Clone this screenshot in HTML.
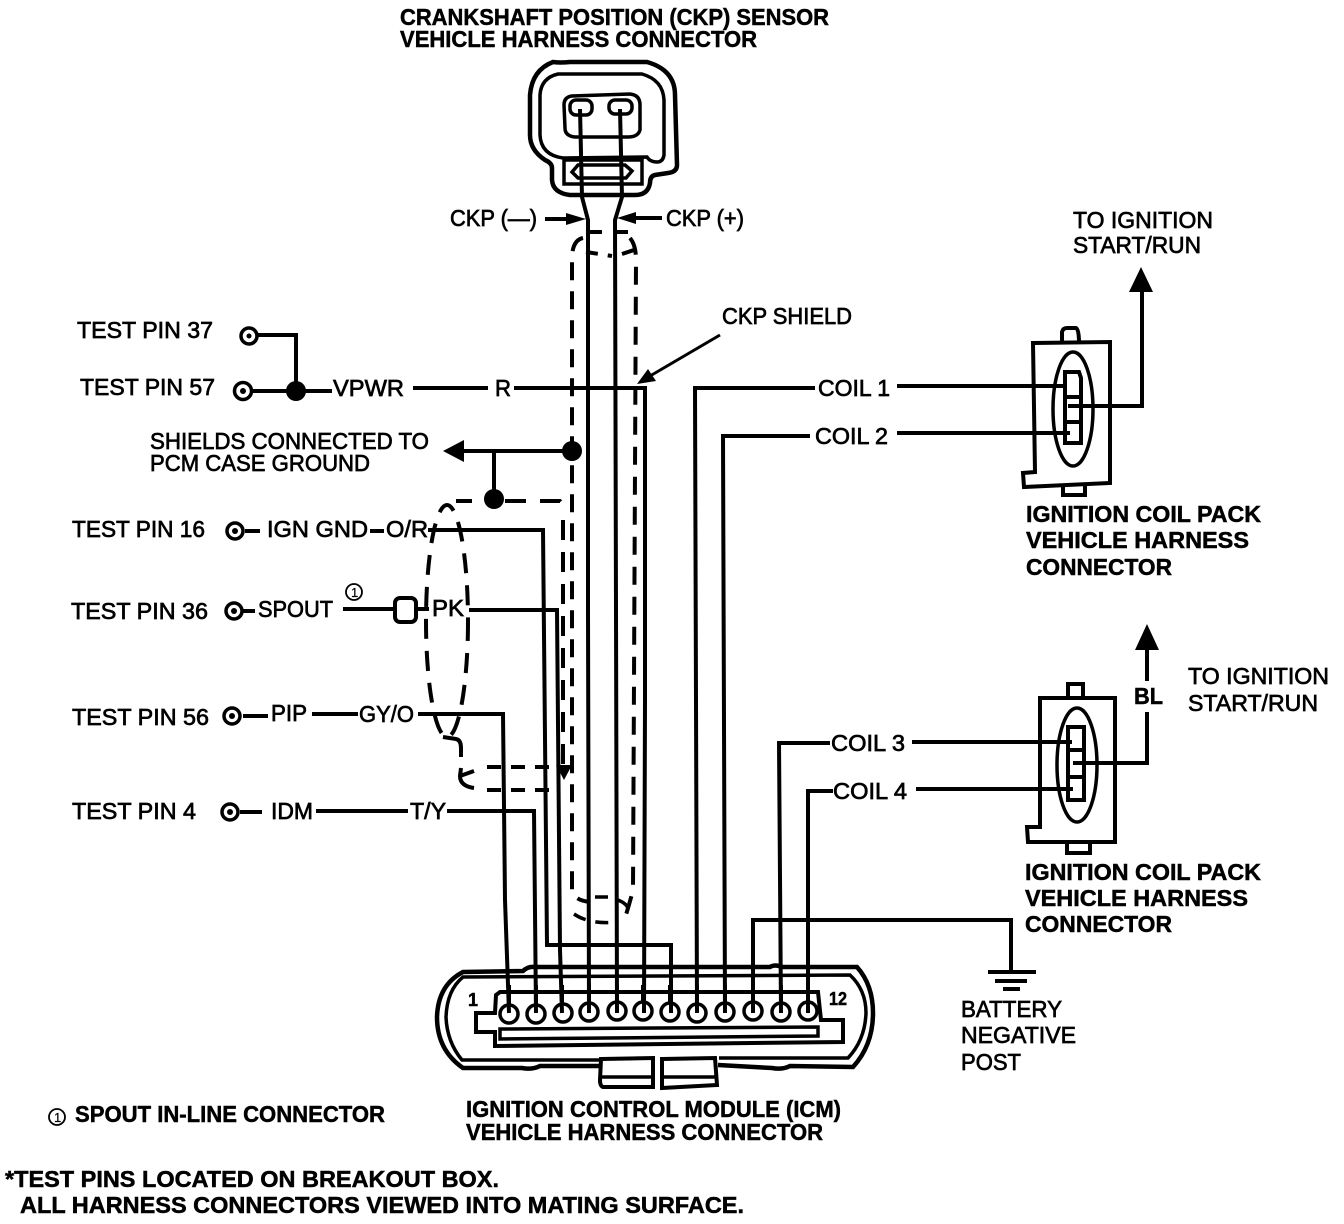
<!DOCTYPE html>
<html>
<head>
<meta charset="utf-8">
<style>
html,body{margin:0;padding:0;background:#fff;width:1344px;height:1224px;overflow:hidden}
svg{display:block}
text{font-family:"Liberation Sans",sans-serif;fill:#000;font-size:23px;stroke:#000;stroke-width:.7px}
.b{font-weight:bold;stroke-width:.5px}
.w{fill:none;stroke:#000;stroke-width:4;stroke-linejoin:miter}
.t{fill:none;stroke:#000;stroke-width:3.5}
.d{fill:none;stroke:#000;stroke-width:4;stroke-dasharray:21 14}
.f{fill:#000;stroke:none}
</style>
</head>
<body>
<svg width="1344" height="1224" viewBox="0 0 1344 1224" xmlns="http://www.w3.org/2000/svg">
<rect width="1344" height="1224" fill="#fff"/>

<!-- CKP connector -->
<path class="w" style="stroke-width:4.5" d="M553 62 Q560 63 570 62 L647 62 Q675 70 675 95 L677 165 Q677 172 668 173 L655 175 Q650 176 650 183 Q648 195 635 195 L570 195 Q553 193 552 180 L552 168 Q552 163 545 160 Q530 150 530 135 L530 95 Q532 70 553 62 Z"/>
<path class="t" d="M558 74 L642 74 Q663 80 664 100 L664 155 Q663 162 657 162 Q650 162 647 157 L563 158 Q541 155 540 135 L540 95 Q541 78 558 74 Z"/>
<path class="t" d="M572 96 L630 94 Q640 95 640 105 L640 130 Q638 137 628 137 L575 137 Q565 136 565 128 L564 105 Q564 97 572 96 Z"/>
<rect class="t" x="570" y="100" width="22" height="15" rx="6"/>
<rect class="t" x="609" y="100" width="23" height="14" rx="6"/>
<rect class="t" x="564" y="160" width="78" height="24"/>
<path class="t" d="M578 165 L625 165 L632 171 L626 178 L578 178 L572 172 Z"/>

<!-- CKP wires -->
<path class="w" d="M580 109 L582 197 L588 220 L588 610 L589 1013"/>
<path class="w" d="M620 109 L622 197 L615 220 L616 610 L617 1013"/>

<!-- labels arrows -->
<path class="w" d="M545 219 L570 219"/><path class="f" d="M586 219 L566 213 L566 225 Z"/>
<path class="w" d="M662 218 L632 218"/><path class="f" d="M617 218 L636 212 L636 224 Z"/>
<path class="w" style="stroke-width:3" d="M720 335 L650 376"/><path class="f" d="M637 384 L648 369 L656 381 Z"/>

<!-- CKP shield dashed -->
<path class="d" style="stroke-dasharray:12 14" d="M590 232 L632 232"/>
<path class="d" style="stroke-dasharray:18 11" d="M583 238 Q573 240 572 256 L572 890 Q573 900 590 902"/>
<path class="d" style="stroke-dasharray:18 12" d="M630 238 Q636 245 636 260 L633 890 Q630 902 625 918"/>
<path class="d" style="stroke-width:3.5;stroke-dasharray:13 10" d="M574 914 Q590 925 618 922 M595 897 L612 897 M618 900 Q630 905 628 912"/>
<path class="d" style="stroke-dasharray:12 10" d="M586 252 L612 256 M622 254 L634 250"/>

<!-- Power / test pins -->
<g class="t" style="stroke-width:3.5" fill="#fff">
<circle cx="249" cy="336" r="8"/>
<circle cx="243" cy="391" r="8.5"/>
<circle cx="235" cy="531" r="8"/>
<circle cx="234" cy="611" r="8"/>
<circle cx="232" cy="716" r="8"/>
<circle cx="230" cy="812" r="8"/>
</g>
<g class="f">
<circle cx="249" cy="336" r="2.5"/><circle cx="243" cy="391" r="3"/><circle cx="235" cy="531" r="3"/><circle cx="234" cy="611" r="3"/><circle cx="232" cy="716" r="3"/><circle cx="230" cy="812" r="3"/>
<circle cx="296" cy="391" r="10"/>
<circle cx="572" cy="451" r="10"/>
<circle cx="494" cy="499" r="10"/>
<path d="M443 451 L464 440 L464 462 Z"/>
<path d="M1141 267 L1129 292 L1153 292 Z"/>
<path d="M1147 624 L1135 650 L1159 650 Z"/>
</g>
<path class="w" d="M258 335 L296 335 L296 391 M252 391 L332 391"/>
<path class="w" d="M413 388 L488 388 M514 388 L645 388 L645 700 L644 1013"/>
<path class="w" d="M460 451 L572 451 M494 451 L494 499"/>
<path class="w" d="M245 531 L260 531 M370 531 L384 531 M243 611 L255 611 M243 716 L268 716 M240 812 L262 812"/>

<!-- shield dashed left loop -->
<path class="d" d="M456 501 L472 501 M505 501 L536 501 M540 501 L560 501 Q563 503 563 515"/>
<path class="d" style="stroke-dasharray:20 12" d="M563 520 L563 775"/>
<ellipse cx="447" cy="621" rx="21" ry="116" class="d" style="stroke-dasharray:20 12"/>
<path class="w" d="M443 737 L456 739 Q461 740 461 748 L461 757"/>
<path class="w" d="M461 768 L460 776 Q460 786 474 788 M460 776 L474 771"/>
<path class="d" style="stroke-dasharray:14 10" d="M487 767 L560 767 M487 790 L560 790"/>
<path class="f" d="M564 780 L556 765 L572 765 Z"/>

<!-- signal wires -->
<path class="w" d="M428 530 L543 530 L547 945 L671 945 L671 1013"/>
<path class="w" d="M469 610 L557 610 L560 950 L562 1013"/>
<path class="w" d="M418 714 L503 714 L505 900 L509 1013"/>
<path class="w" d="M312 714 L358 714"/>
<path class="w" d="M447 811 L534 811 L536 1013"/>
<path class="w" d="M316 811 L408 811"/>
<path class="w" d="M343 609 L394 609 M417 609 L429 609"/>
<rect class="w" x="395" y="598" width="21" height="24" rx="5"/>

<!-- coil wires -->
<path class="w" d="M815 388 L695 388 L697 1013"/>
<path class="w" d="M810 436 L723 436 L725 1013"/>
<path class="w" d="M830 743 L779 743 L781 1013"/>
<path class="w" d="M833 791 L808 791 L808 1013"/>
<path class="w" d="M897 386 L1067 386 M897 433 L1070 433"/>
<path class="w" d="M912 742 L1072 742 M916 789 L1073 789"/>
<path class="w" d="M1068 406 L1142 406 L1142 288"/>
<path class="w" d="M1073 763 L1147 763 L1147 712 M1147 681 L1147 648"/>

<!-- Ground -->
<path class="w" d="M753 1013 L753 920 L1011 920 L1011 972"/>
<path class="w" d="M988 972 L1036 972"/>
<path class="w" style="stroke-width:4" d="M995 981 L1027 981"/>
<path class="w" style="stroke-width:4" d="M1003 989 L1020 989"/>

<!-- Coil pack 1 -->
<path class="w" d="M1033 343 L1110 342 L1110 483 L1024 487 L1023 473 L1035 472 Z"/>
<path class="w" d="M1062 343 L1062 332 Q1063 328 1067 328 L1076 328 Q1079 329 1079 343"/>
<path class="w" d="M1063 486 L1063 495 L1085 495 L1085 485"/>
<ellipse class="t" cx="1073" cy="409" rx="20" ry="57"/>
<path class="w" d="M1065 372 L1079 372 L1081 378 L1081 443 L1065 443 Z M1065 397 L1081 397 M1065 422 L1081 422"/>

<!-- Coil pack 2 -->
<path class="w" d="M1040 698 L1115 698 L1115 842 L1028 842 L1027 827 L1040 827 Z"/>
<path class="w" d="M1068 698 L1068 684 L1083 684 L1083 698"/>
<path class="w" d="M1067 843 L1067 853 L1090 853 L1090 843"/>
<ellipse class="t" cx="1077" cy="765" rx="20" ry="57"/>
<path class="w" d="M1068 727 L1084 727 L1084 800 L1068 800 Z M1068 750 L1084 750 M1068 777 L1084 777"/>

<!-- ICM connector -->
<path class="w" style="stroke-width:4.5" d="M600 1066 L540 1066 Q532 1070 522 1068 L463 1068 Q437 1050 437 1017 Q438 985 463 972 L523 971 Q528 966 535 967 L770 967 Q775 964 782 967 L857 967 Q873 985 873 1013 Q873 1045 853 1067 L790 1066 Q782 1070 772 1068 L718 1065"/>
<path class="t" d="M600 1060 L462 1060 Q447 1042 446 1017 Q447 990 463 977 L850 975 Q866 990 866 1013 Q865 1040 848 1058 L719 1058"/>
<path class="w" d="M601 1059 L653 1058 L653 1087 L603 1087 Q600 1086 600 1080 Z"/>
<path class="w" d="M662 1059 L715 1058 L717 1085 L662 1088 Z"/>
<path class="t" d="M602 1077 L652 1077 M662 1077 L716 1077"/>
<path class="w" d="M500 992 L818 992 L821 1020 L843 1020 L843 1042 L495 1046 L495 1032 L476 1032 L476 1013 L495 1013 L496 995 Z"/>
<path class="t" d="M500 1029 L818 1027 L818 1036 L500 1039 Z"/>
<g fill="#fff" class="t" style="stroke-width:3.5">
<circle cx="509" cy="1014" r="9"/><circle cx="536" cy="1014" r="9"/><circle cx="563" cy="1013" r="9"/><circle cx="589" cy="1012" r="9"/><circle cx="617" cy="1011" r="9"/><circle cx="643" cy="1011" r="9"/><circle cx="670" cy="1012" r="9"/><circle cx="697" cy="1013" r="9"/><circle cx="725" cy="1012" r="9"/><circle cx="753" cy="1011" r="9"/><circle cx="781" cy="1012" r="9"/><circle cx="808" cy="1011" r="9"/>
</g>
<path class="w" d="M509 985 L509 1005 M536 985 L536 1005 M562 985 L562 1003 M589 985 L589 1003 M617 985 L617 1002 M643 985 L643 1002 M670 985 L670 1003 M697 985 L697 1004 M725 985 L725 1003 M753 985 L753 1002 M781 985 L781 1003 M808 985 L808 1002"/>

<!-- Text -->
<text class="b" x="400" y="25" textLength="429" lengthAdjust="spacingAndGlyphs">CRANKSHAFT POSITION (CKP) SENSOR</text>
<text class="b" x="400" y="47" textLength="357" lengthAdjust="spacingAndGlyphs">VEHICLE HARNESS CONNECTOR</text>
<text x="450" y="226" textLength="87" lengthAdjust="spacingAndGlyphs">CKP (—)</text>
<text x="666" y="226" textLength="78" lengthAdjust="spacingAndGlyphs">CKP (+)</text>
<text x="1073" y="228" textLength="140" lengthAdjust="spacingAndGlyphs">TO IGNITION</text>
<text x="1073" y="253" textLength="128" lengthAdjust="spacingAndGlyphs">START/RUN</text>
<text x="722" y="324" textLength="130" lengthAdjust="spacingAndGlyphs">CKP SHIELD</text>
<text x="77" y="338" textLength="136" lengthAdjust="spacingAndGlyphs">TEST PIN 37</text>
<text x="80" y="395" textLength="135" lengthAdjust="spacingAndGlyphs">TEST PIN 57</text>
<text x="333" y="396" textLength="71" lengthAdjust="spacingAndGlyphs">VPWR</text>
<text x="495" y="396" textLength="16" lengthAdjust="spacingAndGlyphs">R</text>
<text x="818" y="396" textLength="72" lengthAdjust="spacingAndGlyphs">COIL 1</text>
<text x="815" y="444" textLength="73" lengthAdjust="spacingAndGlyphs">COIL 2</text>
<text x="150" y="449" textLength="279" lengthAdjust="spacingAndGlyphs">SHIELDS CONNECTED TO</text>
<text x="150" y="471" textLength="220" lengthAdjust="spacingAndGlyphs">PCM CASE GROUND</text>
<text x="72" y="537" textLength="133" lengthAdjust="spacingAndGlyphs">TEST PIN 16</text>
<text x="267" y="537" textLength="101" lengthAdjust="spacingAndGlyphs">IGN GND</text>
<text x="386" y="537" textLength="42" lengthAdjust="spacingAndGlyphs">O/R</text>
<text x="71" y="619" textLength="137" lengthAdjust="spacingAndGlyphs">TEST PIN 36</text>
<text x="258" y="617" textLength="75" lengthAdjust="spacingAndGlyphs">SPOUT</text>
<text x="432" y="616" textLength="32" lengthAdjust="spacingAndGlyphs">PK</text>
<text x="72" y="725" textLength="137" lengthAdjust="spacingAndGlyphs">TEST PIN 56</text>
<text x="271" y="721" textLength="36" lengthAdjust="spacingAndGlyphs">PIP</text>
<text x="359" y="722" textLength="55" lengthAdjust="spacingAndGlyphs">GY/O</text>
<text x="72" y="819" textLength="124" lengthAdjust="spacingAndGlyphs">TEST PIN 4</text>
<text x="271" y="819" textLength="42" lengthAdjust="spacingAndGlyphs">IDM</text>
<text x="410" y="819" textLength="36" lengthAdjust="spacingAndGlyphs">T/Y</text>
<circle class="t" style="stroke-width:1.8" cx="354" cy="592" r="8"/>
<text x="351" y="597" style="font-size:13px;stroke-width:.2px">1</text>

<text class="b" x="1026" y="522" textLength="235" lengthAdjust="spacingAndGlyphs">IGNITION COIL PACK</text>
<text class="b" x="1026" y="548" textLength="223" lengthAdjust="spacingAndGlyphs">VEHICLE HARNESS</text>
<text class="b" x="1026" y="575" textLength="146" lengthAdjust="spacingAndGlyphs">CONNECTOR</text>
<text x="1188" y="684" textLength="141" lengthAdjust="spacingAndGlyphs">TO IGNITION</text>
<text x="1188" y="711" textLength="130" lengthAdjust="spacingAndGlyphs">START/RUN</text>
<text class="b" x="1134" y="704" textLength="29" lengthAdjust="spacingAndGlyphs">BL</text>
<text x="831" y="751" textLength="74" lengthAdjust="spacingAndGlyphs">COIL 3</text>
<text x="833" y="799" textLength="74" lengthAdjust="spacingAndGlyphs">COIL 4</text>
<text class="b" x="1025" y="880" textLength="236" lengthAdjust="spacingAndGlyphs">IGNITION COIL PACK</text>
<text class="b" x="1025" y="906" textLength="223" lengthAdjust="spacingAndGlyphs">VEHICLE HARNESS</text>
<text class="b" x="1025" y="932" textLength="147" lengthAdjust="spacingAndGlyphs">CONNECTOR</text>
<text x="961" y="1017" textLength="101" lengthAdjust="spacingAndGlyphs">BATTERY</text>
<text x="961" y="1043" textLength="115" lengthAdjust="spacingAndGlyphs">NEGATIVE</text>
<text x="961" y="1070" textLength="60" lengthAdjust="spacingAndGlyphs">POST</text>
<text class="b" x="468" y="1006" style="font-size:18px" textLength="10" lengthAdjust="spacingAndGlyphs">1</text>
<text class="b" x="829" y="1005" style="font-size:18px" textLength="18" lengthAdjust="spacingAndGlyphs">12</text>

<circle class="t" style="stroke-width:1.8" cx="57" cy="1117" r="8"/>
<text x="54" y="1122" style="font-size:13px;stroke-width:.2px">1</text>
<text class="b" x="75" y="1122" textLength="310" lengthAdjust="spacingAndGlyphs">SPOUT IN-LINE CONNECTOR</text>
<text class="b" x="466" y="1117" textLength="375" lengthAdjust="spacingAndGlyphs">IGNITION CONTROL MODULE (ICM)</text>
<text class="b" x="466" y="1140" textLength="357" lengthAdjust="spacingAndGlyphs">VEHICLE HARNESS CONNECTOR</text>
<text class="b" x="5" y="1187" textLength="494" lengthAdjust="spacingAndGlyphs">*TEST PINS LOCATED ON BREAKOUT BOX.</text>
<text class="b" x="20" y="1213" textLength="724" lengthAdjust="spacingAndGlyphs">ALL HARNESS CONNECTORS VIEWED INTO MATING SURFACE.</text>
</svg>
</body>
</html>
